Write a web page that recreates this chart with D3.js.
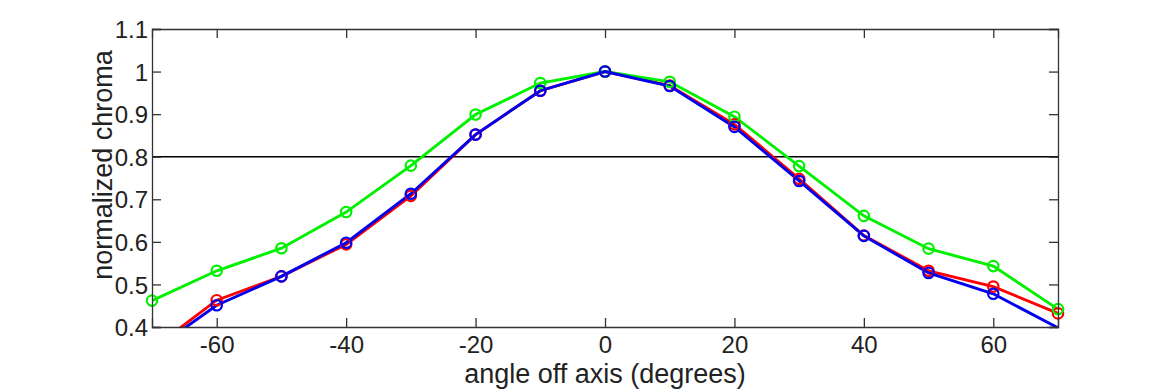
<!DOCTYPE html>
<html>
<head>
<meta charset="utf-8">
<script src="https://cdn.jsdelivr.net/npm/d3@7"></script>
<style>
  body { margin: 0; background: #fff; }
  svg { display: block; font-family: "Liberation Sans", Arial, sans-serif; }
</style>
</head>
<body>
<div id="chart"></div>
<script>
var angles = [-70, -60, -50, -40, -30, -20, -10, 0, 10, 20, 30, 40, 50, 60, 70];
var redValues = [0.348, 0.463, 0.519, 0.594, 0.708, 0.852, 0.955, 1.0, 0.967, 0.876, 0.748, 0.615, 0.532, 0.495, 0.432];
var greenValues = [0.462, 0.532, 0.585, 0.670, 0.779, 0.899, 0.973, 1.0, 0.976, 0.894, 0.778, 0.661, 0.584, 0.543, 0.442];
var blueValues = [0.343, 0.451, 0.519, 0.598, 0.713, 0.852, 0.955, 1.0, 0.966, 0.870, 0.743, 0.614, 0.527, 0.478, 0.398];
var xTicks = [-60, -40, -20, 0, 20, 40, 60];
var yTicks = [0.4, 0.5, 0.6, 0.7, 0.8, 0.9, 1, 1.1];
var threshold = 0.8;

function makeChart(div, width, height) {
    var left = 152, right = 1058, top = 29, bottom = 327;

    var svg = d3.select(div).append("svg").attr("width", width).attr("height", height);

    var x = d3.scaleLinear().domain([-70, 70]).range([left, right]);
    var y = d3.scaleLinear().domain([0.4, 1.1]).range([bottom, top]);

    svg.append("clipPath").attr("id", "plot-clip")
        .append("rect").attr("x", left).attr("y", top)
        .attr("width", right - left).attr("height", bottom - top);

    // reference line at 0.8
    svg.append("line")
        .attr("x1", left).attr("x2", right)
        .attr("y1", y(threshold)).attr("y2", y(threshold))
        .attr("stroke", "#000").attr("stroke-width", 1.5);

    var series = [
        { name: "red", color: "#ff0000", values: redValues },
        { name: "green", color: "#00f000", values: greenValues },
        { name: "blue", color: "#0000f0", values: blueValues }
    ];

    var line = d3.line()
        .x(function(d) { return x(d[0]); })
        .y(function(d) { return y(d[1]); });

    var plot = svg.append("g").attr("clip-path", "url(#plot-clip)");

    series.forEach(function(s) {
        var pts = angles.map(function(a, i) { return [a, s.values[i]]; });
        plot.append("path")
            .datum(pts)
            .attr("fill", "none")
            .attr("stroke", s.color)
            .attr("stroke-width", 2.9)
            .attr("d", line);
        svg.append("g").selectAll("circle")
            .data(pts.filter(function(d) { return d[1] >= 0.4; }))
            .enter().append("circle")
            .attr("cx", function(d) { return x(d[0]); })
            .attr("cy", function(d) { return y(d[1]); })
            .attr("r", 5.2)
            .attr("fill", "none")
            .attr("stroke", s.color)
            .attr("stroke-width", 2.2);
    });

    // box axes, ticks pointing inward
    var axisColor = "#333";
    var tickLen = 9;

    var xAxisB = svg.append("g").attr("transform", "translate(0," + bottom + ")")
        .call(d3.axisBottom(x).tickValues(xTicks).tickSize(-tickLen).tickPadding(0)
            .tickFormat(function(d) { return String(d); }));
    var xAxisT = svg.append("g").attr("transform", "translate(0," + top + ")")
        .call(d3.axisTop(x).tickValues(xTicks).tickSize(-tickLen).tickFormat(""));
    var yAxisL = svg.append("g").attr("transform", "translate(" + left + ",0)")
        .call(d3.axisLeft(y).tickValues(yTicks).tickSize(-tickLen).tickPadding(0)
            .tickFormat(function(d) { return String(+d.toFixed(1)); }));
    var yAxisR = svg.append("g").attr("transform", "translate(" + right + ",0)")
        .call(d3.axisRight(y).tickValues(yTicks).tickSize(-tickLen).tickFormat(""));

    [xAxisB, xAxisT, yAxisL, yAxisR].forEach(function(g) {
        g.select(".domain").attr("stroke", axisColor).attr("stroke-width", 1.3);
        g.selectAll(".tick line").attr("stroke", axisColor).attr("stroke-width", 1.3);
        g.selectAll(".tick text").attr("fill", "#222").style("font-size", "24px")
            .style("font-family", "Liberation Sans, Arial, sans-serif");
    });
    yAxisL.selectAll(".tick text").attr("x", -4).attr("dy", "0.36em");
    xAxisB.selectAll(".tick text").attr("y", 26).attr("dy", 0);

    svg.append("text")
        .attr("x", x(0))
        .attr("y", 383)
        .attr("text-anchor", "middle")
        .attr("fill", "#222")
        .style("font-size", "27px")
        .text("angle off axis (degrees)");

    svg.append("text")
        .attr("transform", "translate(112,165) rotate(-90)")
        .attr("text-anchor", "middle")
        .attr("fill", "#222")
        .style("font-size", "27px")
        .text("normalized chroma");
}

makeChart("#chart", 1170, 390);
</script>
</body>
</html>
